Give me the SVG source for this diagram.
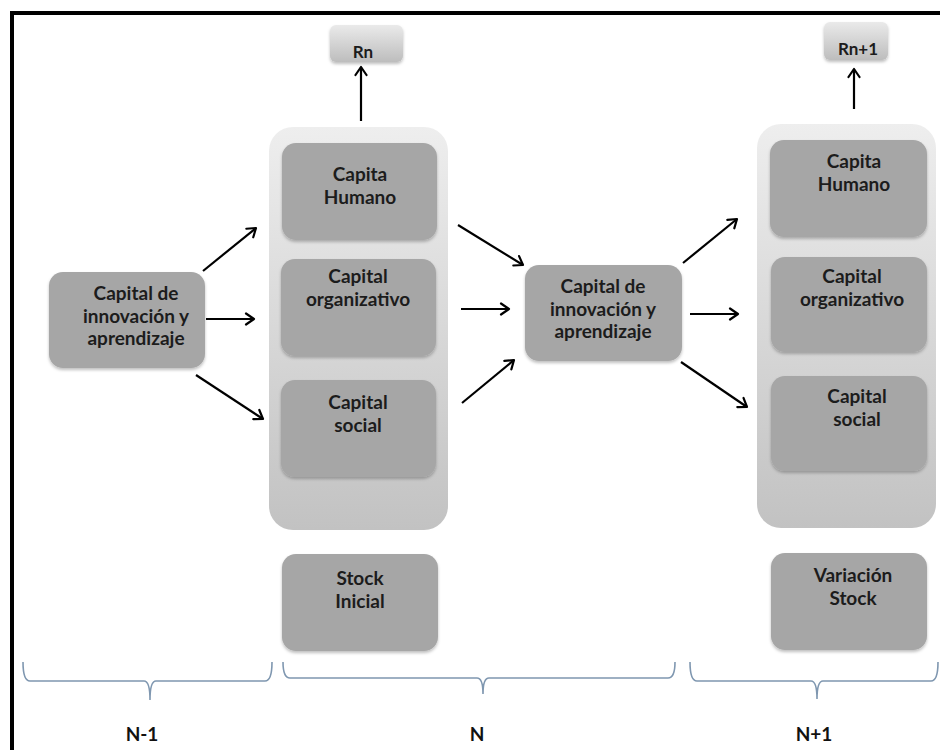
<svg xmlns="http://www.w3.org/2000/svg" width="940" height="750" viewBox="0 0 940 750">
  <defs>
    <linearGradient id="colGrad" x1="0" y1="0" x2="0" y2="1">
      <stop offset="0" stop-color="#eeeeee"/>
      <stop offset="1" stop-color="#c2c2c2"/>
    </linearGradient>
    <linearGradient id="resGrad" x1="0" y1="0" x2="0" y2="1">
      <stop offset="0" stop-color="#eaeaea"/>
      <stop offset="1" stop-color="#bdbdbd"/>
    </linearGradient>
    <filter id="shadow" x="-10%" y="-10%" width="120%" height="130%">
      <feDropShadow dx="0" dy="2" stdDeviation="1.5" flood-color="#000000" flood-opacity="0.25"/>
    </filter>
    <marker id="head" markerWidth="14" markerHeight="14" refX="11" refY="7" orient="auto" markerUnits="userSpaceOnUse">
      <path d="M3,1.5 L11,7 L3,12.5" fill="none" stroke="#000" stroke-width="2.2" stroke-linecap="round" stroke-linejoin="round"/>
    </marker>
  </defs>
  <style>
    .col { fill: url(#colGrad); }
    .box { fill: #a6a6a6; filter: url(#shadow); }
    .res { fill: url(#resGrad); filter: url(#shadow); }
    .lbl { font-family: Lato, "Open Sans", "Liberation Sans", sans-serif; font-weight: bold; font-size: 19px; fill: #1c1c1c; text-anchor: middle; }
    .rlbl { font-family: Lato, "Open Sans", "Liberation Sans", sans-serif; font-weight: bold; font-size: 17px; fill: #1c1c1c; text-anchor: middle; }
    .per { font-family: Lato, "Liberation Sans", Arial, sans-serif; font-weight: bold; font-size: 19px; fill: #111; text-anchor: middle; }
    .arrow { stroke: #000; stroke-width: 2.2; fill: none; marker-end: url(#head); }
    .brace { stroke: #7f97b0; stroke-width: 1.6; fill: none; }
  </style>

  <rect x="0" y="0" width="940" height="750" fill="#ffffff"/>
  <!-- outer frame -->
  <path d="M12,750 V13 H940" fill="none" stroke="#000" stroke-width="4"/>

  <!-- period N column -->
  <g id="col-n">
    <rect class="col" x="269" y="127" width="179" height="403" rx="24"/>
  </g>
  <!-- period N+1 column -->
  <g id="col-n1">
    <rect class="col" x="757" y="124" width="179" height="404" rx="24"/>
  </g>

  <g id="rn">
    <rect class="res" x="330" y="25" width="73" height="37" rx="6"/>
    <text class="rlbl" x="363" y="58">Rn</text>
  </g>
  <g id="rn1">
    <rect class="res" x="824" y="22" width="64" height="38" rx="6"/>
    <text class="rlbl" x="858" y="55">Rn+1</text>
  </g>

  <g id="innov-left">
    <rect class="box" x="49" y="272" width="156" height="96" rx="14"/>
    <text class="lbl" x="136" y="300">Capital de</text>
    <text class="lbl" x="136" y="323">innovación y</text>
    <text class="lbl" x="136" y="345">aprendizaje</text>
  </g>

  <g id="humano-n">
    <rect class="box" x="282" y="143" width="155" height="97" rx="14"/>
    <text class="lbl" x="360" y="181">Capita</text>
    <text class="lbl" x="360" y="204">Humano</text>
  </g>
  <g id="organizativo-n">
    <rect class="box" x="281" y="259" width="155" height="97" rx="14"/>
    <text class="lbl" x="358" y="283">Capital</text>
    <text class="lbl" x="358" y="306">organizativo</text>
  </g>
  <g id="social-n">
    <rect class="box" x="281" y="380" width="155" height="97" rx="14"/>
    <text class="lbl" x="358" y="409">Capital</text>
    <text class="lbl" x="358" y="432">social</text>
  </g>
  <g id="stock-inicial">
    <rect class="box" x="282" y="554" width="156" height="97" rx="14"/>
    <text class="lbl" x="360" y="585">Stock</text>
    <text class="lbl" x="360" y="608">Inicial</text>
  </g>

  <g id="innov-mid">
    <rect class="box" x="525" y="265" width="157" height="96" rx="14"/>
    <text class="lbl" x="603" y="293">Capital de</text>
    <text class="lbl" x="603" y="316">innovación y</text>
    <text class="lbl" x="603" y="338">aprendizaje</text>
  </g>

  <g id="humano-n1">
    <rect class="box" x="770" y="140" width="157" height="97" rx="14"/>
    <text class="lbl" x="854" y="168">Capita</text>
    <text class="lbl" x="854" y="191">Humano</text>
  </g>
  <g id="organizativo-n1">
    <rect class="box" x="771" y="257" width="156" height="95" rx="14"/>
    <text class="lbl" x="852" y="283">Capital</text>
    <text class="lbl" x="852" y="306">organizativo</text>
  </g>
  <g id="social-n1">
    <rect class="box" x="771" y="376" width="156" height="95" rx="14"/>
    <text class="lbl" x="857" y="403">Capital</text>
    <text class="lbl" x="857" y="426">social</text>
  </g>
  <g id="variacion-stock">
    <rect class="box" x="771" y="553" width="156" height="97" rx="14"/>
    <text class="lbl" x="853" y="582">Variación</text>
    <text class="lbl" x="853" y="605">Stock</text>
  </g>

  <!-- connectors -->
  <g id="connectors">
    <line class="arrow" x1="361" y1="121" x2="361" y2="67"/>
    <line class="arrow" x1="854" y1="109" x2="854" y2="69"/>
    <line class="arrow" x1="203" y1="271" x2="256" y2="228"/>
    <line class="arrow" x1="206" y1="319" x2="254" y2="319"/>
    <line class="arrow" x1="196" y1="375" x2="263" y2="419"/>
    <line class="arrow" x1="458" y1="225" x2="523" y2="265"/>
    <line class="arrow" x1="461" y1="309" x2="509" y2="309"/>
    <line class="arrow" x1="462" y1="403" x2="514" y2="360"/>
    <line class="arrow" x1="683" y1="263" x2="737" y2="219"/>
    <line class="arrow" x1="690" y1="314" x2="738" y2="314"/>
    <line class="arrow" x1="681" y1="362" x2="747" y2="407"/>
  </g>

  <!-- period braces -->
  <g id="braces">
    <path class="brace" d="M23,662 Q23,681 30,681 H144 Q150,681 150,700 Q150,681 156,681 H265 Q272,681 272,662"/>
    <path class="brace" d="M283,662 Q283,678 290,678 H477 Q483,678 483,694 Q483,678 489,678 H668 Q675,678 675,662"/>
    <path class="brace" d="M690,662 Q690,681 697,681 H811 Q817,681 817,699 Q817,681 823,681 H931 Q938,681 938,662"/>
  </g>

  <g id="periods">
    <text class="per" x="142" y="741">N-1</text>
    <text class="per" x="477" y="741">N</text>
    <text class="per" x="814" y="741">N+1</text>
  </g>
</svg>
